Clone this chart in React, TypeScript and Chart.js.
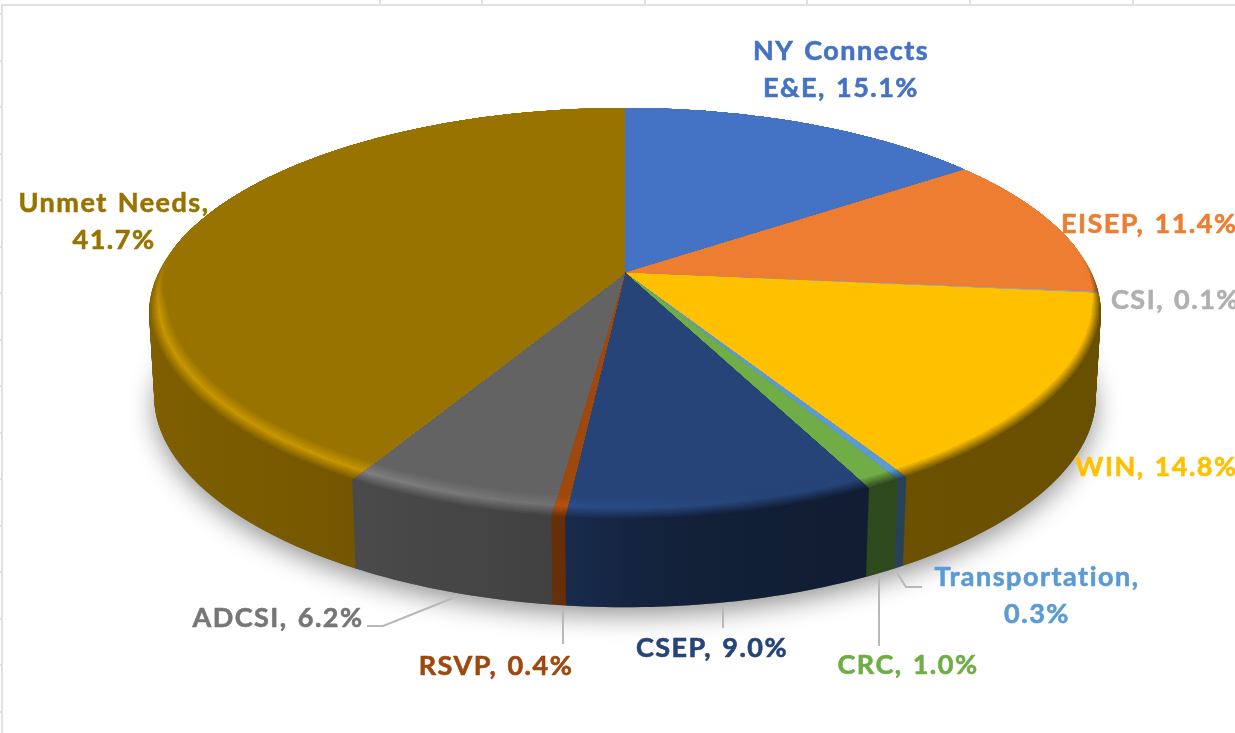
import React, { useEffect, useRef } from "react";
import { Chart, registerables } from "chart.js";

Chart.register(...registerables);

// ---- data ----
const categories = ["NY Connects E&E", "EISEP", "CSI", "WIN", "Transportation", "CRC", "CSEP", "RSVP", "ADCSI", "Unmet Needs"];
const shares = [15.1, 11.4, 0.1, 14.8, 0.3, 1.0, 9.0, 0.4, 6.2, 41.7];
const sliceColors = ["#4472C4", "#ED7D31", "#A5A5A5", "#FFC000", "#5B9BD5", "#70AD47", "#264478", "#9E480E", "#636363", "#997300"];
const labelColors = ["#4472C4", "#ED7D31", "#B0B0B0", "#FFC000", "#5B9BD5", "#70AD47", "#264478", "#9E480E", "#767676", "#997300"];

// ---- layout (not data) ----
type Place = { x: number; y: number; align: CanvasTextAlign; lines?: (t: string) => string[] };
const labelPlaces: Place[] = [
  { x: 841, y: 60, align: "center", lines: (t) => ["NY Connects", t.replace("NY Connects ", "")] },
  { x: 1061, y: 233, align: "left" },
  { x: 1111, y: 309, align: "left" },
  { x: 1075, y: 476, align: "left" },
  { x: 1037, y: 586, align: "center", lines: (t) => t.replace(", ", ",\n").split("\n") },
  { x: 908, y: 674, align: "center" },
  { x: 712, y: 657, align: "center" },
  { x: 496, y: 675, align: "center" },
  { x: 278, y: 627, align: "center" },
  { x: 114, y: 212, align: "center", lines: (t) => t.replace(", ", ",\n").split("\n") },
];
const leaders = [
  [[367, 626], [383, 626], [453, 598]],
  [[563, 610], [563, 644]],
  [[723, 606], [723, 628]],
  [[879, 576], [879, 646]],
  [[897, 573], [906, 587], [922, 587]],
];
const horizontalTicks = [380, 482, 645, 807, 970, 1133];
const verticalTicks = [14, 61, 107, 154, 200, 247, 293, 340, 386, 433, 479, 526, 572, 619, 665, 712];

const CX = 625;
const TOP = { cy: 273, a: 466.5, b: 197.8, p: 0.199 };
const BOTTOM = { cy: 364.3, a: 461, b: 194.6, p: 0.199 };
type Face = typeof TOP;

const project = (f: Face, u: number, v: number) => {
  const d = 1 - f.p * v;
  const nudge = 1 - 0.04 * Math.max(v - 0.2, 0);
  return [CX + (f.a * u * nudge) / d, f.cy + (f.b * v) / d];
};
const hex = (c: string) => [1, 3, 5].map((i) => parseInt(c.slice(i, i + 2), 16));
const css = (c: number[]) => `rgb(${c.map((n) => Math.round(Math.min(255, Math.max(0, n)))).join(",")})`;
const mix = (a: number[], b: number[], t: number) => a.map((n, i) => n + (b[i] - n) * t);
const clamp = (n: number, lo = 0, hi = 1) => Math.min(hi, Math.max(lo, n));

const wallStops = [[0, 0.85], [150, 0.83], [360, 0.75], [550, 0.66], [640, 0.52], [700, 0.47], [880, 0.42], [1100, 0.41], [1235, 0.4]];
const wallFactor = (x: number) => {
  for (let i = 1; i < wallStops.length; i++) {
    if (x <= wallStops[i][0]) {
      const [x0, k0] = wallStops[i - 1];
      const [x1, k1] = wallStops[i];
      return k0 + ((k1 - k0) * (x - x0)) / (x1 - x0);
    }
  }
  return 0.4;
};

const silhouette = (ctx: CanvasRenderingContext2D, f: Face) => {
  for (let i = 0; i <= 360; i++) {
    const t = (i * Math.PI) / 180;
    const [x, y] = project(f, Math.cos(t), Math.sin(t));
    if (i === 0) ctx.moveTo(x, y);
    else ctx.lineTo(x, y);
  }
  ctx.closePath();
};

const lerpFace = (t: number): Face => ({
  cy: BOTTOM.cy + (TOP.cy - BOTTOM.cy) * t,
  a: BOTTOM.a + (TOP.a - BOTTOM.a) * t,
  b: BOTTOM.b + (TOP.b - BOTTOM.b) * t,
  p: TOP.p,
});

const pie3d = {
  id: "pie3d",
  beforeDraw(chart: any) {
    const { ctx, width, height } = chart;
    ctx.save();
    ctx.fillStyle = "#ffffff";
    ctx.fillRect(0, 0, width, height);
    ctx.strokeStyle = "#e1e1e1";
    ctx.lineWidth = 2;
    ctx.beginPath();
    ctx.moveTo(2, height);
    ctx.lineTo(2, 5);
    ctx.lineTo(width, 5);
    horizontalTicks.forEach((x) => {
      ctx.moveTo(x, 0);
      ctx.lineTo(x, 5);
    });
    verticalTicks.forEach((y) => {
      ctx.moveTo(0, y);
      ctx.lineTo(2, y);
    });
    ctx.stroke();
    ctx.restore();
  },
  beforeDatasetsDraw(chart: any) {
    const ctx: CanvasRenderingContext2D = chart.ctx;
    const arcs = chart.getDatasetMeta(0).data;
    ctx.save();

    // soft shadow under the disc
    ctx.save();
    ctx.shadowColor = "rgba(0,0,0,0.42)";
    ctx.shadowBlur = 26;
    ctx.shadowOffsetY = 8;
    ctx.fillStyle = "#666";
    ctx.beginPath();
    silhouette(ctx, BOTTOM);
    ctx.fill();
    ctx.restore();

    const sweep = (a0: number, a1: number) => {
      const n = Math.max(1, Math.ceil(((a1 - a0) * 180) / Math.PI));
      return Array.from({ length: n + 1 }, (_, i) => a0 + ((a1 - a0) * i) / n);
    };

    // side walls: a stack of wedges from the lower face up to the top face
    const LAYERS = 100;
    for (let l = 0; l <= LAYERS; l++) {
      const face = lerpFace(l / LAYERS);
      arcs.forEach((arc: any) => {
        const base = hex(arc.options.backgroundColor);
        const g = ctx.createLinearGradient(0, 0, 1235, 0);
        wallStops.forEach(([x, k]) => g.addColorStop(x / 1235, css(base.map((n) => n * k))));
        ctx.beginPath();
        ctx.moveTo(CX, face.cy);
        sweep(arc.startAngle, arc.endAngle).forEach((t) => {
          const [x, y] = project(face, Math.cos(t), Math.sin(t));
          ctx.lineTo(x, y);
        });
        ctx.closePath();
        ctx.fillStyle = g;
        ctx.fill();
      });
    }

    // top face: bevel rings outer to inner, then flat colour
    const RINGS = 12;
    const inset = (t: number, s: number) => {
      const u = Math.cos(t);
      const v = Math.sin(t);
      const w = clamp((v + 0.12) / 0.3);
      const d = s * w * (0.03 + 0.045 * Math.max(v, 0));
      return project(TOP, u * (1 - d), v * (1 - d));
    };
    arcs.forEach((arc: any) => {
      const base = hex(arc.options.backgroundColor);
      const pts = sweep(arc.startAngle, arc.endAngle);
      const eps = 0.004;
      for (let r = RINGS; r >= 1; r--) {
        const s = r / RINGS;
        for (let i = 0; i < pts.length - 1; i++) {
          const t0 = Math.max(arc.startAngle, pts[i] - eps);
          const t1 = Math.min(arc.endAngle, pts[i + 1] + eps);
          const [x0, y0] = inset(t0, 1 - s);
          const [x1, y1] = inset(t1, 1 - s);
          const mid = (x0 + x1) / 2;
          const vm = Math.sin((t0 + t1) / 2);
          const w = clamp((vm + 0.12) / 0.3);
          const h = clamp((760 - mid) / 420);
          const peak = base.map((n) => n * (1 + 0.3 * h));
          const wall = base.map((n) => n * wallFactor(mid));
          let c: number[];
          if (s < 0.5) c = mix(base, peak, s / 0.5);
          else c = mix(peak, wall, (s - 0.5) / 0.5);
          c = mix(base, c, w);
          ctx.beginPath();
          ctx.moveTo(CX, TOP.cy);
          ctx.lineTo(x0, y0);
          ctx.lineTo(x1, y1);
          ctx.closePath();
          ctx.fillStyle = css(c);
          ctx.fill();
        }
      }
      ctx.beginPath();
      ctx.moveTo(CX, TOP.cy);
      pts.forEach((t) => {
        const [x, y] = inset(t, 1);
        ctx.lineTo(x, y);
      });
      ctx.closePath();
      ctx.fillStyle = arc.options.backgroundColor;
      ctx.fill();
    });

    // leader lines
    ctx.strokeStyle = "#b8b8b8";
    ctx.lineWidth = 2;
    leaders.forEach((line) => {
      ctx.beginPath();
      line.forEach(([x, y], i) => (i === 0 ? ctx.moveTo(x, y) : ctx.lineTo(x, y)));
      ctx.stroke();
    });

    // data labels
    ctx.font = 'bold 27px Lato, "Open Sans", sans-serif';
    (ctx as any).letterSpacing = "1.5px";
    (ctx as any).wordSpacing = "2px";
    ctx.textBaseline = "alphabetic";
    ctx.lineJoin = "round";
    ctx.lineWidth = 0.6;
    categories.forEach((cat, i) => {
      const text = `${cat}, ${shares[i].toFixed(1)}%`;
      const place = labelPlaces[i];
      const lines = place.lines ? place.lines(text) : [text];
      ctx.fillStyle = labelColors[i];
      ctx.strokeStyle = labelColors[i];
      ctx.textAlign = place.align;
      lines.forEach((ln, k) => {
        ctx.fillText(ln, place.x, place.y + k * 36.5);
        ctx.strokeText(ln, place.x, place.y + k * 36.5);
      });
    });
    ctx.restore();
    return false; // the elements above replace the flat arcs
  },
};

export default function App() {
  const ref = useRef<HTMLCanvasElement>(null);
  useEffect(() => {
    const chart = new Chart(ref.current!, {
      type: "pie",
      data: {
        labels: categories,
        datasets: [{ data: shares, backgroundColor: sliceColors, borderWidth: 0 }],
      },
      options: {
        animation: false,
        responsive: false,
        plugins: { legend: { display: false }, tooltip: { enabled: false } },
      },
      plugins: [pie3d],
    } as any);
    return () => chart.destroy();
  }, []);
  return (
    <div style={{ position: "absolute", left: 0, top: 0, width: 1235, height: 733, overflow: "hidden" }}>
      <canvas ref={ref} width={1235} height={733} style={{ display: "block" }} />
    </div>
  );
}
